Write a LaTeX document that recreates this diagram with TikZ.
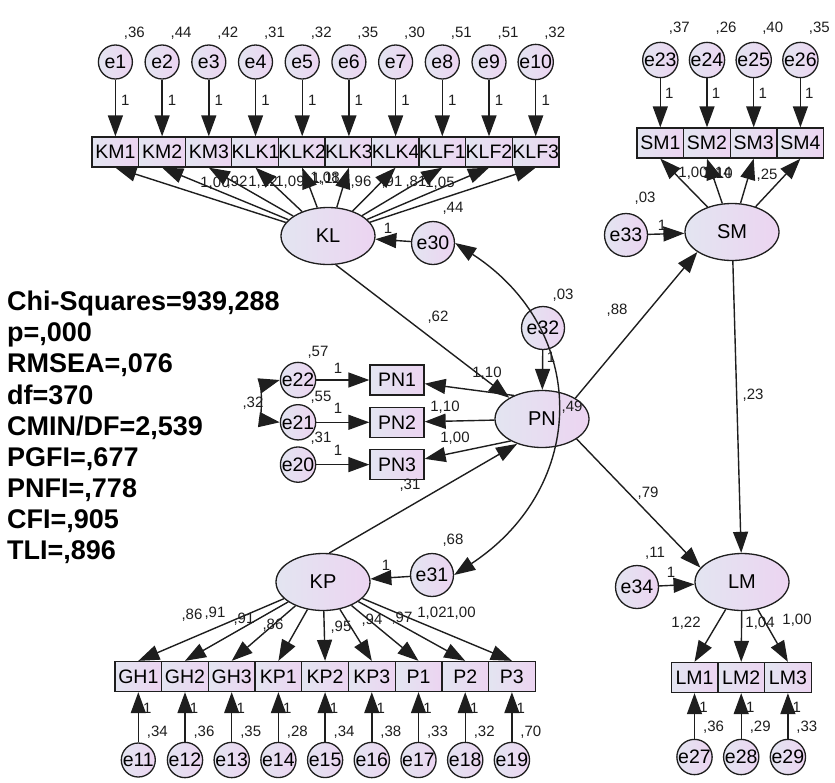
\documentclass[tikz,border=0pt]{standalone}
\usepackage{fontspec}
\setmainfont{Liberation Sans}
\usetikzlibrary{arrows.meta, positioning, shapes.geometric}
\definecolor{inkgray}{HTML}{1E1E1E}
\definecolor{lavleft}{HTML}{E3E5F1}
\definecolor{lavright}{HTML}{ECD4F1}

\begin{document}
\begin{tikzpicture}[
  x=1pt, y=-1pt,
  obs/.style={rectangle, draw=inkgray, line width=1.3pt, left color=lavleft, right color=lavright,
              minimum width=46.7pt, minimum height=30pt, inner sep=0pt, font=\fontsize{19.5}{20}\selectfont},
  pnbox/.style={obs, minimum width=54pt},
  lat/.style={ellipse, draw=inkgray, line width=1.3pt, left color=lavleft, right color=lavright,
              minimum width=94pt, minimum height=57pt, inner sep=0pt, font=\fontsize{20}{22}\selectfont},
  err/.style={circle, draw=inkgray, line width=1.3pt, left color=lavleft, right color=lavright,
              minimum size=34pt, inner sep=0pt, font=\fontsize{19.5}{20}\selectfont},
  bigerr/.style={err, minimum size=43pt},
  reg/.style={-{Triangle[length=21pt, width=15pt]}, line width=1.4pt, color=inkgray},
  cov/.style={{Triangle[length=21pt, width=15pt]}-{Triangle[length=21pt, width=15pt]}, line width=1.4pt, color=inkgray},
  est/.style={font=\fontsize{15}{16}\selectfont, inner sep=0pt, text=inkgray},
  gof/.style={font=\fontsize{27}{31.1}\selectfont\bfseries, align=left, anchor=north west, inner sep=0pt}
]
\useasboundingbox (0,0) rectangle (835,782);

% latent factors
\node[lat] (kl) at (328,236) {KL};
\node[lat] (sm) at (732,232) {SM};
\node[lat] (pn) at (542,419) {PN};
\node[lat] (kp) at (323,582) {KP};
\node[lat] (lm) at (742,582) {LM};

% structural residuals
\node[bigerr] (e30) at (433,243) {e30};
\node[bigerr] (e32) at (543,328) {e32};
\node[bigerr] (e33) at (626,235) {e33};
\node[bigerr] (e31) at (432,575) {e31};
\node[bigerr] (e34) at (637,587) {e34};

% PN indicators
\node[pnbox] (pn1) at (397,380) {PN1};
\node[pnbox, below=11pt of pn1] (pn2) {PN2};
\node[pnbox, below=11pt of pn2] (pn3) {PN3};
\node[err, left=53pt of pn1] (e22) {e22};
\node[err, left=53pt of pn2] (e21) {e21};
\node[err, left=53pt of pn3] (e20) {e20};

% KL indicators
\foreach \lbl/\var [count=\i] in {KM1/{,36}, KM2/{,44}, KM3/{,42}, KLK1/{,31}, KLK2/{,32},
                                  KLK3/{,35}, KLK4/{,30}, KLF1/{,51}, KLF2/{,51}, KLF3/{,32}} {
  \node[obs] (kl\i) at ({68.7+46.7*\i},152) {\lbl};
  \node[err] (e\i) at ({68.7+46.7*\i},62) {e\i};
  \draw[reg] (e\i) -- (kl\i);
  \node[est] at ({78.7+46.7*\i},100) {1};
  \node[est] at ({87.7+46.7*\i},33) {\var};
  \draw[reg] (kl) -- (kl\i.south);
}

% SM indicators
\foreach \lbl/\k/\var [count=\i] in {SM1/23/{,37}, SM2/24/{,26}, SM3/25/{,40}, SM4/26/{,35}} {
  \node[obs] (sm\i) at ({613.6+46.7*\i},143) {\lbl};
  \node[err] (e\k) at ({613.6+46.7*\i},60) {e\k};
  \draw[reg] (e\k) -- (sm\i);
  \node[est] at ({622.6+46.7*\i},93) {1};
  \node[est] at ({632.6+46.7*\i},28) {\var};
  \draw[reg] (sm) -- (sm\i.south);
}

% KP indicators
\foreach \lbl/\k/\var [count=\i] in {GH1/11/{,34}, GH2/12/{,36}, GH3/13/{,35}, KP1/14/{,28}, KP2/15/{,34},
                                     KP3/16/{,38}, P1/17/{,33}, P2/18/{,32}, P3/19/{,70}} {
  \node[obs] (kp\i) at ({91.6+46.7*\i},676.5) {\lbl};
  \node[err] (e\k) at ({91.6+46.7*\i},760) {e\k};
  \draw[reg] (e\k) -- (kp\i);
  \node[est] at ({100.6+46.7*\i},708) {1};
  \node[est] at ({110.6+46.7*\i},732) {\var};
  \draw[reg] (kp) -- (kp\i.north);
}

% LM indicators
\foreach \lbl/\k/\var [count=\i] in {LM1/27/{,36}, LM2/28/{,29}, LM3/29/{,33}} {
  \node[obs] (lm\i) at ({647.8+46.7*\i},677.5) {\lbl};
  \node[err] (e\k) at ({647.8+46.7*\i},757) {e\k};
  \draw[reg] (e\k) -- (lm\i);
  \node[est] at ({656.8+46.7*\i},707) {1};
  \node[est] at ({666.8+46.7*\i},727) {\var};
  \draw[reg] (lm) -- (lm\i.north);
}

% loadings
\foreach \t/\x/\y in {{1,00}/215/183, {,92}/237/182, {1,12}/263/182, {1,09}/290/182, {1,08}/325/178,
                      {1,11}/326/179, {,96}/361/182, {,91}/392/182, {,81}/416/182, {1,05}/440/183,
                      {1,00}/693/173, {1,14}/717/173, {1,10}/718/174, {,25}/767/175,
                      {,86}/192/615, {,91}/215/613, {,91}/244/619, {,86}/273/625, {,95}/341/627,
                      {,94}/372/620, {,97}/402/618, {1,02}/432/613, {1,00}/461/613,
                      {1,22}/686/623, {1,04}/760/623, {1,00}/797/620}
  \node[est] at (\x,\y) {\t};

% structural part
\draw[reg] (e30) -- (kl);
\draw[reg] (e33) -- (sm);
\draw[reg] (e31) -- (kp);
\draw[reg] (e34) -- (lm);
\draw[reg] (e32) -- (pn);
\draw[reg] (kl.-75) -- (pn.147);
\draw[reg] (kp.78) -- (pn.225);
\draw[reg] (pn.32) -- (sm.210);
\draw[reg] (pn.-30) -- (lm.161);
\draw[reg] (sm) -- (lm);
\draw[reg] (pn.140) -- (pn1);
\draw[reg] (pn) -- (pn2);
\draw[reg] (pn.215) -- (pn3);
\draw[reg] (e22) -- (pn1);
\draw[reg] (e21) -- (pn2);
\draw[reg] (e20) -- (pn3);
\draw[cov] (e22.west) .. controls (262,385) and (262,420) .. (e21.west);
\draw[cov] (e30.east) .. controls (589,330) and (589,486) .. (e31.east);

\node[est] at (453,208) {,44};
\node[est] at (388,228) {1};
\node[est] at (438,317) {,62};
\node[est] at (563,295) {,03};
\node[est] at (551,357) {1};
\node[est] at (645,198) {,03};
\node[est] at (662,225) {1};
\node[est] at (617,310) {,88};
\node[est] at (753,395) {,23};
\node[est] at (572,407) {,49};
\node[est] at (487,373) {1,10};
\node[est] at (445,407) {1,10};
\node[est] at (455,438) {1,00};
\node[est] at (318,352) {,57};
\node[est] at (321,397) {,55};
\node[est] at (321,438) {,31};
\node[est] at (338,368) {1};
\node[est] at (338,408) {1};
\node[est] at (338,450) {1};
\node[est] at (253,403) {,32};
\node[est] at (410,485) {,31};
\node[est] at (453,540) {,68};
\node[est] at (386,565) {1};
\node[est] at (648,493) {,79};
\node[est] at (655,553) {,11};
\node[est] at (671,572) {1};

% fit indices
\node[gof] (fitstats) at (7,291) {Chi-Squares=939,288\\p=,000\\RMSEA=,076\\df=370\\CMIN/DF=2,539\\PGFI=,677\\PNFI=,778\\CFI=,905\\TLI=,896};
\end{tikzpicture}
\end{document}
